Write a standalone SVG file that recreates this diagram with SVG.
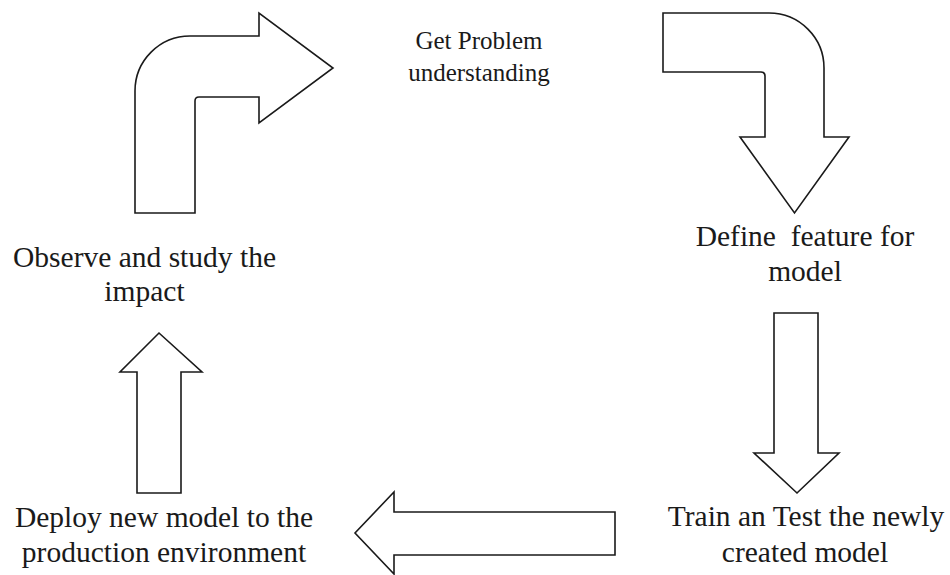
<svg xmlns="http://www.w3.org/2000/svg" width="950" height="575" viewBox="0 0 950 575">
  <style>
    .arrow { fill: #ffffff; stroke: #1a1a1a; stroke-width: 1.6; stroke-linejoin: miter; }
    .label { font-family: "Liberation Serif", "Times New Roman", serif; font-size: 29.5px; fill: #1a1a1a; text-anchor: middle; white-space: pre; }
    .label.small { font-size: 25px; }
  </style>
  <rect width="950" height="575" fill="#ffffff"/>

  <!-- Block arrows linking the steps of the cycle -->
  <g id="connectors">
    <!-- bent arrow: observe -> problem understanding -->
    <path class="arrow" d="M135,213 L135,91 A55,55 0 0 1 190,36 L259,36 L259,13 L333,68 L259,123 L259,97 L199,97 Q195,97 195,101 L195,213 Z"/>
    <!-- bent arrow: problem understanding -> define features -->
    <path class="arrow" d="M663,13 L769,13 A55,55 0 0 1 824,68 L824,137 L849,137 L794.5,213 L740,137 L765,137 L765,76 Q765,72 761,72 L663,72 Z"/>
    <!-- down arrow: define features -> train and test -->
    <path class="arrow" d="M774,313 L818,313 L818,453 L839,453 L797,493 L754,453 L774,453 Z"/>
    <!-- left arrow: train and test -> deploy -->
    <path class="arrow" d="M615,512 L615,555 L394,555 L394,574 L355,533 L394,492 L394,512 Z"/>
    <!-- up arrow: deploy -> observe -->
    <path class="arrow" d="M137,493 L137,372 L120,372 L159,333 L202,372 L181,372 L181,493 Z"/>
  </g>

  <g id="node-problem">
    <text class="label small" x="479" y="49">Get Problem</text>
    <text class="label small" x="479" y="81">understanding</text>
  </g>

  <g id="node-features">
    <text class="label" x="805" y="246">Define  feature for</text>
    <text class="label" x="805" y="281">model</text>
  </g>

  <g id="node-train">
    <text class="label" x="806" y="526">Train an Test the newly</text>
    <text class="label" x="805" y="562">created model</text>
  </g>

  <g id="node-deploy">
    <text class="label" x="164" y="527">Deploy new model to the</text>
    <text class="label" x="164" y="562">production environment</text>
  </g>

  <g id="node-observe">
    <text class="label" x="144.5" y="267">Observe and study the</text>
    <text class="label" x="144.5" y="301">impact</text>
  </g>
</svg>
